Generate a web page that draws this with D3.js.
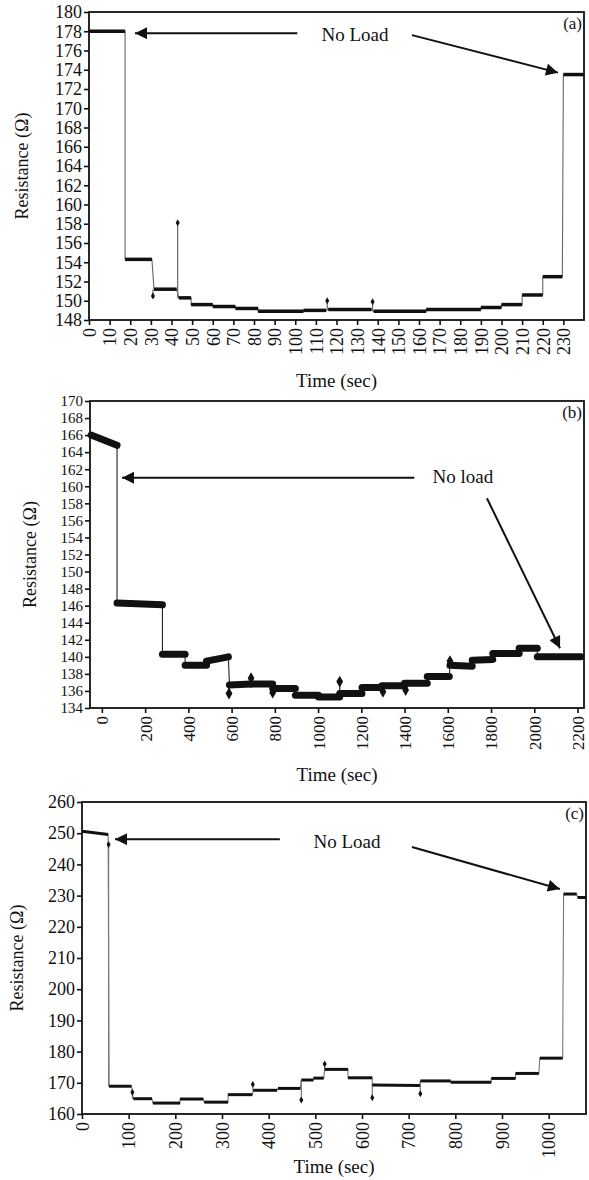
<!DOCTYPE html>
<html>
<head>
<meta charset="utf-8">
<script src="https://cdn.jsdelivr.net/npm/d3@7"></script>
<style>
  body { margin: 0; background: #fff; }
  svg text { font-family: "Liberation Serif", "Times New Roman", serif; fill: #111; }
</style>
</head>
<body>
<svg id="chart" width="589" height="1180"></svg>
<script>
// ---- panel (a) : plateaus (start, end, value at start, value at end)
var aStart = [0, 17.5, 31.5, 43.5, 49.5, 60, 71, 82, 104, 116, 138, 163.5, 190, 200, 210, 220, 230];
var aEnd = [17.5, 30.5, 42.5, 49.5, 60, 71, 82, 104, 115, 137, 163.5, 190, 200, 210, 220, 229.5, 240];
var aFrom = [178.0, 154.3, 151.2, 150.3, 149.6, 149.4, 149.2, 148.9, 149.0, 149.1, 148.9, 149.1, 149.3, 149.6, 150.6, 152.5, 173.5];
var aTo = [178.0, 154.3, 151.2, 150.3, 149.6, 149.4, 149.2, 148.9, 149.0, 149.1, 148.9, 149.1, 149.3, 149.6, 150.6, 152.5, 173.5];
var aSpikeT = [31, 43, 115.5, 137.5];
var aSpikeV = [150.5, 158.1, 150.0, 149.9];
var aXTicks = d3.range(0, 231, 10);
var aYTicks = d3.range(148, 181, 2);

// ---- panel (b)
var bStart = [-50, 70, 280, 385, 484, 590, 690, 790, 895, 1002, 1100, 1203, 1295, 1400, 1505, 1610, 1713, 1808, 1930, 2014];
var bEnd = [70, 280, 385, 484, 585, 690, 790, 895, 1002, 1100, 1203, 1295, 1400, 1505, 1607, 1713, 1808, 1930, 2014, 2215];
var bFrom = [166.0, 146.3, 140.3, 139.0, 139.5, 136.7, 136.8, 136.3, 135.5, 135.3, 135.7, 136.4, 136.6, 136.9, 137.7, 139.0, 139.6, 140.4, 141.0, 140.0];
var bTo = [164.8, 146.1, 140.3, 139.0, 140.0, 136.8, 136.8, 136.3, 135.5, 135.3, 135.7, 136.4, 136.6, 136.9, 137.7, 138.9, 139.7, 140.4, 141.0, 140.0];
var bSpikeT = [588, 690, 790, 1100, 1300, 1405, 1610];
var bSpikeV = [135.7, 137.5, 135.8, 137.1, 135.9, 136.1, 139.5];
var bXTicks = d3.range(0, 2201, 200);
var bYTicks = d3.range(134, 171, 2);

// ---- panel (c)
var cStart = [0, 58, 110, 152, 210, 262, 313, 367, 420, 470, 496, 520, 570, 622, 725, 790, 877, 929, 981, 1032, 1062];
var cEnd = [56, 106, 150, 210, 260, 313, 365, 418, 468, 496, 518, 570, 622, 724, 790, 877, 929, 979, 1030, 1060, 1080];
var cFrom = [250.6, 168.9, 164.9, 163.5, 164.8, 163.8, 166.2, 167.6, 168.2, 170.9, 171.5, 174.3, 171.6, 169.3, 170.6, 170.2, 171.4, 173.0, 177.9, 230.5, 229.4];
var cTo = [249.6, 168.9, 164.9, 163.5, 164.8, 163.8, 166.2, 167.6, 168.2, 170.9, 171.5, 174.3, 171.6, 169.1, 170.6, 170.2, 171.4, 173.0, 177.9, 230.5, 229.4];
var cSpikeT = [57, 108, 366, 470, 520, 622, 725];
var cSpikeV = [246.4, 167.0, 169.5, 164.5, 176.0, 165.2, 166.5];
var cXTicks = d3.range(0, 1001, 100);
var cYTicks = d3.range(160, 261, 10);

var svg = d3.select("#chart");

// arrow head
svg.append("defs").append("marker")
  .attr("id", "arrow")
  .attr("viewBox", "0 0 10 10")
  .attr("refX", 10)
  .attr("refY", 5)
  .attr("markerUnits", "userSpaceOnUse")
  .attr("markerWidth", 15)
  .attr("markerHeight", 12)
  .attr("orient", "auto")
  .append("path")
  .attr("d", "M0,0L10,5L0,10z")
  .attr("fill", "#111");

var panels = [
  {
    left: 89, top: 12, width: 495, height: 308,
    xDomain: [0, 240], yDomain: [148, 180],
    start: aStart, end: aEnd, from: aFrom, to: aTo, spikeT: aSpikeT, spikeV: aSpikeV,
    xTicks: aXTicks, yTicks: aYTicks, xFont: 18, yFont: 18,
    plateauWidth: 3.5, linkColor: "#666", titleX: -67, timeY: 67, tag: "(a)", note: "No Load",
    text: [129, 177.0],
    arrows: [[[101, 177.8], [22.3, 177.8]], [[156.6, 177.6], [227.4, 173.7]]]
  },
  {
    left: 90, top: 401, width: 494, height: 307,
    xDomain: [-55, 2230], yDomain: [134, 170],
    start: bStart, end: bEnd, from: bFrom, to: bTo, spikeT: bSpikeT, spikeV: bSpikeV,
    xTicks: bXTicks, yTicks: bYTicks, xFont: 17, yFont: 15,
    plateauWidth: 7, linkColor: "#222", titleX: -60, timeY: 73, tag: "(b)", note: "No load",
    text: [1670, 160.4],
    arrows: [[[1445, 161.0], [93, 161.0]], [[1781, 158.6], [2119, 141.0]]]
  },
  {
    left: 82, top: 802, width: 504, height: 312,
    xDomain: [0, 1080], yDomain: [160, 260],
    start: cStart, end: cEnd, from: cFrom, to: cTo, spikeT: cSpikeT, spikeV: cSpikeV,
    xTicks: cXTicks, yTicks: cYTicks, xFont: 18, yFont: 18,
    plateauWidth: 3, linkColor: "#777", titleX: -65, timeY: 59, tag: "(c)", note: "No Load",
    text: [568, 245.3],
    arrows: [[[424, 248.1], [70.7, 248.1]], [[707, 245.6], [1024, 232.1]]]
  }
];

panels.forEach(drawPanel);

function drawPanel(p) {
  var g = svg.append("g").attr("transform", "translate(" + p.left + "," + p.top + ")");

  var x = d3.scaleLinear().domain(p.xDomain).range([0, p.width]);
  var y = d3.scaleLinear().domain(p.yDomain).range([p.height, 0]);

  // y axis
  var yAxis = g.append("g").call(d3.axisLeft(y).tickValues(p.yTicks).tickSize(5).tickPadding(2));
  yAxis.select(".domain").remove();
  yAxis.selectAll("line").attr("stroke", "#111").attr("stroke-width", 1.6);
  yAxis.selectAll("text").attr("font-size", p.yFont).attr("fill", "#111");

  // x axis with vertical labels
  var xAxis = g.append("g")
    .attr("transform", "translate(0," + p.height + ")")
    .call(d3.axisBottom(x).tickValues(p.xTicks).tickFormat(d3.format("d")).tickSize(5));
  xAxis.select(".domain").remove();
  xAxis.selectAll("line").attr("stroke", "#111").attr("stroke-width", 1.6);
  xAxis.selectAll("text")
    .attr("font-size", p.xFont)
    .attr("fill", "#111")
    .attr("transform", "rotate(-90)")
    .attr("text-anchor", "end")
    .attr("x", -8)
    .attr("y", 0)
    .attr("dy", "0.35em");

  // frame
  g.append("rect")
    .attr("width", p.width)
    .attr("height", p.height)
    .attr("fill", "none")
    .attr("stroke", "#111")
    .attr("stroke-width", 1.8);

  // thin connecting line through every plateau end
  var pts = [];
  p.start.forEach(function (s, i) {
    pts.push([s, p.from[i]]);
    pts.push([p.end[i], p.to[i]]);
  });
  var line = d3.line().x(function (d) { return x(d[0]); }).y(function (d) { return y(d[1]); });
  g.append("path")
    .datum(pts)
    .attr("d", line)
    .attr("fill", "none")
    .attr("stroke", p.linkColor)
    .attr("stroke-width", 1.1);

  // spikes: from the local level to the outlier point
  p.spikeT.forEach(function (t, i) {
    var k = d3.bisectRight(p.start, t) - 1;
    if (k < 0) k = 0;
    var base = t > p.end[k] && k + 1 < p.start.length ? p.from[k + 1] : p.from[k];
    g.append("line")
      .attr("x1", x(t)).attr("x2", x(t))
      .attr("y1", y(base)).attr("y2", y(p.spikeV[i]))
      .attr("stroke", p.linkColor)
      .attr("stroke-width", 1.2);
    g.append("path")
      .attr("d", d3.symbol().type(d3.symbolDiamond).size(p.plateauWidth > 5 ? 40 : 14))
      .attr("transform", "translate(" + x(t) + "," + y(p.spikeV[i]) + ")")
      .attr("fill", "#111");
  });

  // plateaus (dense markers)
  g.selectAll(".plateau")
    .data(p.start)
    .enter()
    .append("line")
    .attr("class", "plateau")
    .attr("x1", function (d) { return x(d); })
    .attr("x2", function (d, i) { return x(p.end[i]); })
    .attr("y1", function (d, i) { return y(p.from[i]); })
    .attr("y2", function (d, i) { return y(p.to[i]); })
    .attr("stroke", "#111")
    .attr("stroke-width", p.plateauWidth)
    .attr("stroke-linecap", p.plateauWidth > 5 ? "round" : "butt");

  // annotation
  g.append("text")
    .attr("x", x(p.text[0]))
    .attr("y", y(p.text[1]))
    .attr("text-anchor", "middle")
    .attr("font-size", 19)
    .text(p.note);

  p.arrows.forEach(function (a) {
    g.append("line")
      .attr("x1", x(a[0][0])).attr("y1", y(a[0][1]))
      .attr("x2", x(a[1][0])).attr("y2", y(a[1][1]))
      .attr("stroke", "#111")
      .attr("stroke-width", 2)
      .attr("marker-end", "url(#arrow)");
  });

  g.append("text")
    .attr("x", p.width - 2)
    .attr("y", 17)
    .attr("text-anchor", "end")
    .attr("font-size", 17)
    .text(p.tag);

  // axis titles
  g.append("text")
    .attr("transform", "translate(" + p.titleX + "," + p.height / 2 + ") rotate(-90)")
    .attr("text-anchor", "middle")
    .attr("dy", "0.35em")
    .attr("font-size", 18)
    .text("Resistance (\u03a9)");

  g.append("text")
    .attr("x", p.width / 2)
    .attr("y", p.height + p.timeY)
    .attr("text-anchor", "middle")
    .attr("font-size", 19)
    .text("Time (sec)");
}
</script>
</body>
</html>
